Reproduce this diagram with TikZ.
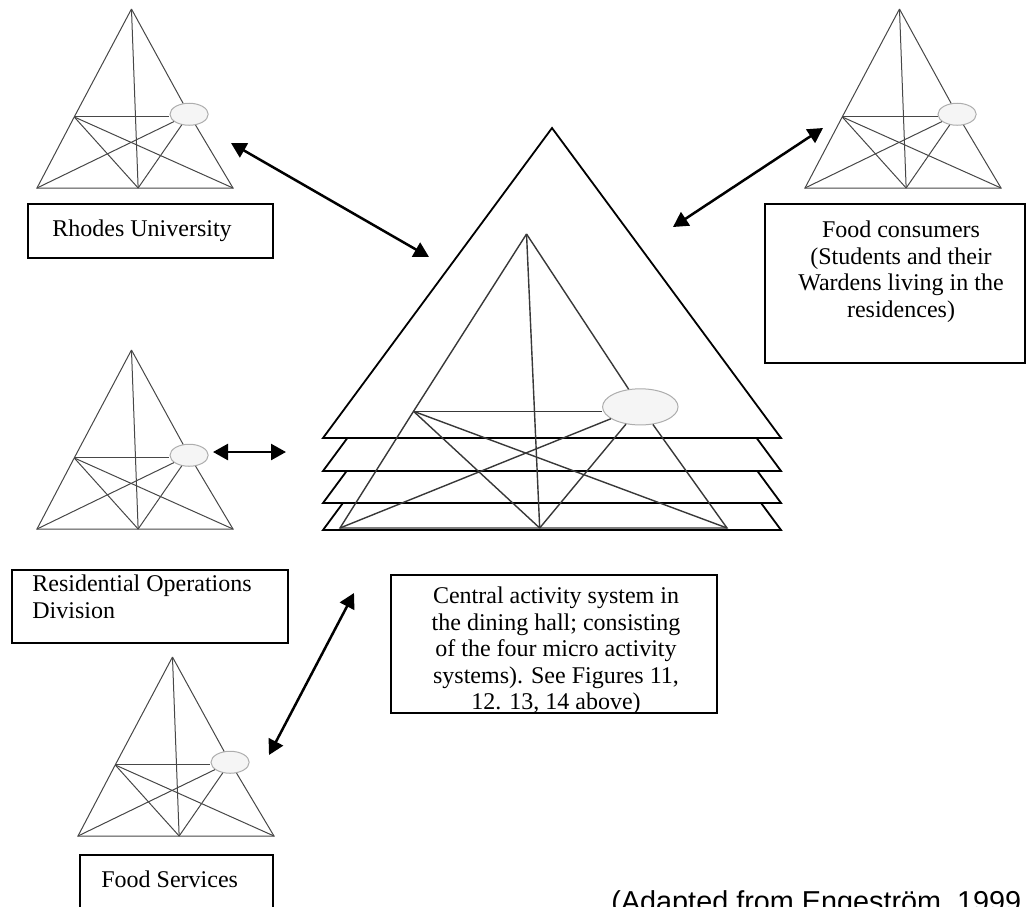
\documentclass[tikz,border=0pt]{standalone}
\usepackage{fontspec}
\setmainfont{Liberation Serif}
\newfontfamily\capfont{Liberation Sans}
\usetikzlibrary{arrows.meta,shapes.geometric}

\tikzset{
  frame/.style={draw=black, line width=0.9pt, inner sep=0pt},
  lbl/.style={font=\fontsize{12}{13.25}\selectfont, inner sep=0pt},
  sysline/.style={draw=black!72, line width=0.5pt},
  coreline/.style={draw=black!78, line width=0.7pt},
  objell/.style={ellipse, draw=black!32, fill=black!4, line width=0.5pt, inner sep=0pt},
  link/.style={{Triangle[length=7.5pt,width=8pt]}-{Triangle[length=7.5pt,width=8pt]}, line width=1.25pt},
  layer/.style={draw=black, fill=white, line width=0.9pt, line join=miter},
}

% Activity system triangle: #1 name, #2 left base x, #3 apex y, #4 width, #5 height, #6 line style
\newcommand\actsys[6]{%
  \coordinate (#1-apex)  at ({#2+0.482*#4},{#3});
  \coordinate (#1-subj)  at ({#2+0.19*#4},{#3+0.603*#5});
  \coordinate (#1-rules) at ({#2},{#3+#5});
  \coordinate (#1-comm)  at ({#2+0.516*#4},{#3+#5});
  \coordinate (#1-div)   at ({#2+#4},{#3+#5});
  \node[objell, minimum width={0.0975pt*#4}, minimum height={0.0615pt*#5}]
    (#1-obj) at ({#2+0.776*#4},{#3+0.588*#5}) {};
  \draw[#6] (#1-apex) -- (#1-subj) -- (#1-rules) -- (#1-comm) -- (#1-div) -- (#1-obj) -- (#1-apex);
  \draw[#6] (#1-apex) -- (#1-comm);
  \draw[#6] (#1-subj) -- (#1-subj -| #1-obj.west);
  \draw[#6] (#1-subj) -- (#1-comm);
  \draw[#6] (#1-subj) -- (#1-div);
  \draw[#6] (#1-rules) -- (#1-obj);
  \draw[#6] (#1-comm) -- (#1-obj);
}

\begin{document}
\begin{tikzpicture}[x=0.5pt,y=-0.5pt]
\useasboundingbox (0,0) rectangle (1027,906);
\clip (0,0) rectangle (1027,906);

% surrounding activity systems
\actsys{uni}{37}{9}{196}{179}{sysline}
\actsys{cons}{805}{9}{196}{179}{sysline}
\actsys{res}{37}{350}{196}{179}{sysline}
\actsys{fs}{78}{657}{196}{179}{sysline}

% stacked layers of the central system
\draw[layer] (323,530) -- (781,530) -- (552,220) -- cycle;
\draw[layer] (323,503) -- (781,503) -- (552,193) -- cycle;
\draw[layer] (323,471) -- (781,471) -- (552,161) -- cycle;
\draw[layer] (323,438) -- (781,438) -- (552,128) -- cycle;

% central activity system
\actsys{core}{340}{234}{387}{294}{coreline}

% labels
\node[frame, anchor=north west, minimum width=122.5pt, minimum height=27pt] (unibox) at (27,203) {};
\node[lbl, anchor=base west] (unitext) at (52,236) {Rhodes University};

\node[frame, anchor=north west, minimum width=130pt, minimum height=79.5pt] (consbox) at (764,203) {};
\node[lbl, anchor=north, align=center] (constext) at (901,220.5)
  {Food consumers\\(Students and their\\Wardens living in the\\residences)};

\node[frame, anchor=north west, minimum width=138pt, minimum height=36.5pt] (resbox) at (11,569) {};
\node[lbl, anchor=north west, align=left] (restext) at (32,574.5)
  {Residential Operations\\Division};

\node[frame, anchor=north west, minimum width=163pt, minimum height=69pt] (corebox) at (390,574) {};
\node[lbl, anchor=north, align=center] (coretext) at (556,586.5)
  {Central activity system in\\the dining hall; consisting\\of the four micro activity\\systems). See Figures 11,\\12. 13, 14 above)};

\node[frame, anchor=north west, minimum width=96.5pt, minimum height=40pt] (fsbox) at (79,854) {};
\node[lbl, anchor=base west] (fstext) at (101,887) {Food Services};

\node[anchor=base west, inner sep=0pt, font=\capfont\fontsize{14.4}{17}\selectfont] (source) at (611,911)
  {(Adapted from Engeström, 1999};

% links between the systems
\coordinate (l1a) at (231,143);
\coordinate (l1b) at (429,257);
\coordinate (l2a) at (823,128);
\coordinate (l2b) at (673,227);
\coordinate (l3a) at (213,452);
\coordinate (l3b) at (286,452);
\coordinate (l4a) at (354,593);
\coordinate (l4b) at (269,755);
\draw[link] (l1a) -- (l1b);
\draw[link] (l2a) -- (l2b);
\draw[link] (l3a) -- (l3b);
\draw[link] (l4a) -- (l4b);
\end{tikzpicture}
\end{document}
